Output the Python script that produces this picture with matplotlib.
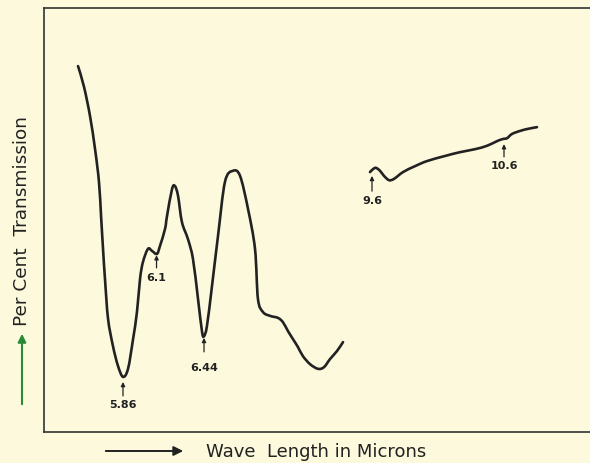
import numpy as np
import matplotlib
matplotlib.use("Agg")
import matplotlib.pyplot as plt
from matplotlib.path import Path
from matplotlib.patches import PathPatch, FancyArrowPatch

# Infrared spectrum.
# Wavelength in microns, transmission in per cent (arbitrary, no scale given)
WL_SHORT = [5.538, 5.581, 5.624, 5.660, 5.688, 5.703, 5.717, 5.731, 5.753, 5.788,
            5.824, 5.860, 5.896, 5.932, 5.960, 5.982, 6.003, 6.039, 6.068, 6.103,
            6.125, 6.161, 6.175, 6.211, 6.232, 6.254, 6.282, 6.325, 6.361, 6.397,
            6.426, 6.440, 6.461, 6.497, 6.540, 6.590, 6.647, 6.698, 6.755, 6.805,
            6.826, 6.862, 6.912, 6.970, 7.005, 7.041, 7.077, 7.113, 7.148, 7.199,
            7.256, 7.299, 7.342, 7.392, 7.435]
T_SHORT = [86.3, 81.4, 74.5, 66.7, 59.0, 50.9, 43.2, 36.1, 26.7, 20.3,
           15.6, 13.0, 14.9, 21.9, 28.3, 36.1, 40.1, 43.2, 42.7, 42.0,
           43.9, 47.9, 50.9, 57.3, 58.0, 55.7, 49.5, 45.5, 40.8, 31.4,
           23.6, 22.6, 25.0, 34.4, 46.2, 59.0, 61.6, 60.4, 52.6, 43.2,
           31.4, 28.3, 27.4, 26.9, 25.9, 23.8, 21.9, 20.0, 17.9, 16.0,
           14.9, 15.3, 17.2, 19.1, 21.2]

WL_LONG = [9.585, 9.608, 9.630, 9.661, 9.691, 9.729, 9.767, 9.835, 9.926, 10.017,
           10.153, 10.267, 10.380, 10.471, 10.547, 10.592, 10.623, 10.661, 10.721,
           10.782, 10.850]
T_LONG = [61.3, 62.0, 62.3, 61.6, 60.4, 59.4, 59.7, 61.3, 62.7, 63.9,
          65.1, 66.0, 66.7, 67.5, 68.6, 69.1, 69.3, 70.3, 71.0, 71.5, 71.9]

# marked bands
BAND_WL = [5.86, 6.1, 6.44, 9.6, 10.6]
BAND_LABELS = ["5.86", "6.1", "6.44", "9.6", "10.6"]
BAND_TIP = [11.8, 41.7, 22.2, 60.4, 67.9]
BAND_TAIL = [8.5, 38.7, 18.9, 56.8, 64.9]
BAND_TEXT_Y = [6.6, 36.6, 15.3, 54.7, 63.0]

# prism scale is not linear: 7.5-9.5 microns is squeezed into a few pixels
CAL_UM = [5.0, 7.5, 9.5, 11.5]
CAL_POS = [2.9, 352.1, 358.8, 622.8]

PAPER = "#fcf9dc"
INK = "#222222"


def fwd(x):
    return np.interp(x, CAL_UM, CAL_POS)


def inv(p):
    return np.interp(p, CAL_POS, CAL_UM)


def trace_path(xs, ys):
    """Pen-like trace: bezier segments through the read points (catmull-rom)."""
    pts = np.column_stack([xs, ys])
    n = len(pts)
    verts = [pts[0]]
    codes = [Path.MOVETO]
    for i in range(n - 1):
        a = pts[max(i - 1, 0)]
        b = pts[i]
        c = pts[i + 1]
        d = pts[min(i + 2, n - 1)]
        verts += [b + (c - a) / 6, c - (d - b) / 6, c]
        codes += [Path.CURVE4] * 3
    return Path(verts, codes)


fig = plt.figure(figsize=(5.9, 4.64), dpi=100, facecolor=PAPER)
ax = fig.add_axes([44 / 590, 31 / 464, 1 - 44 / 590, 424 / 464])
ax.set_facecolor(PAPER)
ax.set_xscale("function", functions=(fwd, inv))
ax.set_xlim(5.2945, 11.2515)
ax.set_ylim(0, 100)

for xs, ys in [(WL_SHORT, T_SHORT), (WL_LONG, T_LONG)]:
    ax.add_patch(PathPatch(trace_path(xs, ys), fill=False, edgecolor=INK,
                           lw=1.9, capstyle="round", joinstyle="round"))

for wl, lab, tip, tail, ty in zip(BAND_WL, BAND_LABELS, BAND_TIP, BAND_TAIL, BAND_TEXT_Y):
    ax.annotate("", xy=(wl, tip), xytext=(wl, tail),
                arrowprops=dict(arrowstyle="-|>", color=INK, lw=0.9,
                                mutation_scale=6, shrinkA=0, shrinkB=0))
    ax.text(wl, ty, lab, ha="center", va="center", fontsize=8,
            fontweight="bold", color=INK)

ax.set_xticks([])
ax.set_yticks([])
ax.spines["right"].set_visible(False)
for s in ["left", "top", "bottom"]:
    ax.spines[s].set_color("#333333")
    ax.spines[s].set_linewidth(1.2)

# axis captions with their arrows
fig.text(316.5 / 590, 12 / 464, "Wave  Length in Microns", ha="center", va="center",
         fontsize=13, color=INK)
fig.text(22 / 590, 242.5 / 464, "Per Cent  Transmission", ha="center", va="center",
         rotation=90, fontsize=13.3, color=INK)
fig.patches.append(FancyArrowPatch(
    (103 / 590, 12 / 464), (186 / 590, 12 / 464), transform=fig.transFigure,
    arrowstyle="-|>", mutation_scale=14, color=INK, lw=1.4))
fig.patches.append(FancyArrowPatch(
    (22 / 590, 56 / 464), (22 / 590, 132 / 464), transform=fig.transFigure,
    arrowstyle="-|>", mutation_scale=12, color="#2a8a35", lw=1.5))

fig.savefig("out.png", dpi=100, facecolor=PAPER)
